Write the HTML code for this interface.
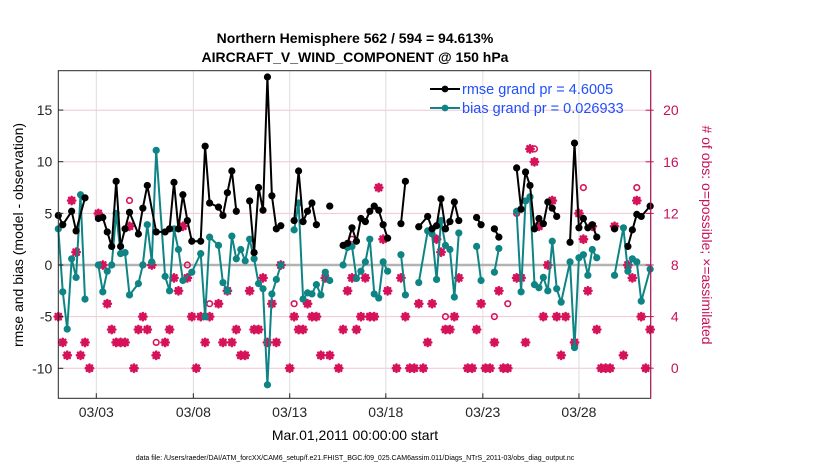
<!DOCTYPE html>
<html><head><meta charset="utf-8">
<style>
html,body{margin:0;padding:0;background:#fff;}
svg{display:block;font-family:"Liberation Sans",Arial,sans-serif;}
</style></head>
<body>
<svg id="chart" width="830" height="470" viewBox="0 0 830 470">
<text x="355" y="43" text-anchor="middle" font-size="14" font-weight="bold">Northern Hemisphere 562 / 594 = 94.613%</text>
<text x="355" y="62" text-anchor="middle" font-size="14" font-weight="bold">AIRCRAFT_V_WIND_COMPONENT @ 150 hPa</text>
<text transform="translate(23,235) rotate(-90)" text-anchor="middle" font-size="14">rmse and bias (model - observation)</text>
<text transform="translate(702,235) rotate(90)" text-anchor="middle" font-size="14" fill="#c8105a"># of obs: o=possible; ×=assimilated</text>
<text x="355" y="440" text-anchor="middle" font-size="14">Mar.01,2011 00:00:00 start</text>
<text x="355" y="460" text-anchor="middle" font-size="7">data file: /Users/raeder/DAI/ATM_forcXX/CAM6_setup/f.e21.FHIST_BGC.f09_025.CAM6assim.011/Diags_NTrS_2011-03/obs_diag_output.nc</text>
<g id="plot"></g>
</svg>
<script>
const rmseBins=[0,1,3,4,6,9,10,11,12,13,14,15,16,18,19,20,22,24,25,26,27,28,29,30,32,33,34,36,37,38,39,40,43,44,45,46,47,48,49,50,53,54,55,56,57,58,61,64,65,66,67,68,69,70,71,72,73,74,77,78,81,83,84,85,86,87,88,89,90,94,95,98,99,103,104,105,106,107,108,109,110,111,112,115,116,117,118,119,120,121,125,128,129,130,131,133];
const rmseValues=[4.8,3.9,5.2,3.3,6.5,4.5,4.6,3.2,1.8,8.1,1.8,3.5,5.1,3.0,5.5,7.7,3.2,3.2,3.5,8.0,3.5,6.8,4.3,2.3,2.3,11.5,6.0,5.6,4.8,7.0,9.1,5.2,6.2,1.2,7.5,5.3,18.2,6.7,3.5,3.8,4.3,9.1,4.2,5.2,6.0,3.9,5.7,1.9,2.1,3.6,2.3,4.5,4.2,5.2,5.7,5.3,3.9,2.6,4.0,8.1,3.7,4.7,3.5,3.8,6.4,3.5,4.2,6.1,4.3,4.6,3.9,3.5,2.7,9.4,5.4,9.0,7.7,3.5,4.5,4.0,6.1,5.5,4.7,2.2,11.8,3.6,4.5,3.6,3.9,2.7,3.5,1.8,3.4,4.9,4.7,5.7];
const biasBins=[0,1,2,3,4,5,6,9,10,11,12,13,14,15,16,18,19,20,21,22,24,25,26,27,28,30,32,33,34,36,37,38,39,40,41,42,43,44,45,46,47,48,49,50,53,54,55,56,57,58,59,60,61,64,65,66,67,68,69,70,71,72,73,74,77,78,81,83,84,85,86,87,88,89,90,94,95,98,99,103,104,105,106,107,108,109,110,111,112,113,115,116,117,118,119,120,121,125,127,128,129,130,131,133];
const biasValues=[3.5,-2.6,-6.2,0.6,-1.2,6.8,-3.3,0.0,-2.6,-0.6,0,5.0,1.1,1.2,-2.9,-1.8,0,3.9,0.3,11.1,-1.1,-2.5,3.5,1.5,-1.5,-0.7,1.1,-5.0,2.7,1.9,-1.7,-2.5,2.8,0.6,1.5,0.4,2.5,0.6,-1.8,-2.3,-11.6,-2.8,-1.4,0.0,3.4,6.0,-3.3,-2.7,-2.8,-1.9,-2.9,-0.7,-1.5,0,1.7,1.8,-1.3,-0.6,0.3,2.5,-2.8,-3.2,0.3,-0.6,1.0,-2.9,-1.7,3.3,3.0,-1.4,4.3,1.9,1.5,-3.1,3.1,1.8,-1.5,-0.7,1.6,5.2,-2.6,6.2,6.6,-1.9,-2.2,-1.2,-2.5,2.3,-2.3,-3.6,0.3,-8.0,0.7,1.0,-1.0,1.5,0.7,-1.0,3.6,-0.6,0.6,0.3,-3.5,-0.4];
const usedBins=[0,1,2,3,4,5,6,7,9,10,11,12,13,14,15,16,17,18,19,20,21,22,24,25,26,27,28,29,30,31,32,33,34,36,37,38,39,40,41,42,43,44,45,46,47,48,49,50,52,53,54,55,56,57,58,59,60,61,63,64,65,66,67,68,69,70,71,72,73,74,76,77,78,79,80,81,82,83,84,85,86,87,88,89,90,92,93,94,95,96,97,98,99,100,101,103,104,105,106,107,108,109,110,111,112,113,114,116,117,118,119,120,121,122,123,124,125,127,128,129,130,131,132,133];
const usedCounts=[4,2,1,13,9,1,2,0,12,8,5,3,2,2,2,11,0,3,4,3,8,1,2,3,7,6,11,7,4,0,4,2,4,5,2,6,2,3,1,1,6,3,3,7,2,5,2,8,0,4,3,3,5,4,4,1,7,1,0,3,6,7,3,4,7,4,4,14,10,6,0,7,4,0,0,5,0,2,5,10,9,3,3,4,7,0,0,3,5,0,0,2,6,0,0,7,7,2,17,16,11,4,8,13,4,1,4,2,12,10,6,11,3,0,0,0,11,1,8,7,13,4,0,3];
const possBins=[16,19,22,29,34,53,66,87,98,101,103,107,118,130];
const possCounts=[13,8,2,8,5,5,10,4,4,5,12,17,14,14];
const xTickBins=[8.54,30.35,52.0,73.6,95.4,117.0];
const xTickLabels=["03/03","03/08","03/13","03/18","03/23","03/28"];
const yTicks=[-10,-5,0,5,10,15];
const rTicks=[0,4,8,12,16,20];

const NS="http://www.w3.org/2000/svg";
const L=58.3,R=650.7,T=70.7,B=398.3;
const xs=i=>L+i*4.45;
const ys=v=>265-v*10.33;
const yr=c=>265-(c-8)*12.9;
const g=document.getElementById('plot');
function mk(tag,attrs,parent){const e=document.createElementNS(NS,tag);for(const k in attrs)e.setAttribute(k,attrs[k]);(parent||g).appendChild(e);return e;}

// grid
rTicks.forEach(c=>{const l=mk('line',{x1:L,x2:R,y1:yr(c),y2:yr(c),stroke:'#f2c6d6','stroke-width':1});

});
xTickBins.forEach(b=>{const l=mk('line',{x1:xs(b),x2:xs(b),y1:T,y2:B,stroke:'#dcdcdc','stroke-width':1});

});
const z=mk('line',{x1:L,x2:R,y1:ys(0),y2:ys(0),stroke:'#b3b3b3','stroke-width':2.5});



// obs counts
const star=(x,y)=>{const s=mk('g',{stroke:'#d6125a','stroke-width':2.6,'stroke-linecap':'round'});


const r=3.6,d=2.6;
mk('line',{x1:x-r,x2:x+r,y1:y,y2:y},s);mk('line',{x1:x,x2:x,y1:y-r,y2:y+r},s);
mk('line',{x1:x-d,x2:x+d,y1:y-d,y2:y+d},s);mk('line',{x1:x-d,x2:x+d,y1:y+d,y2:y-d},s);};
usedBins.forEach((b,k)=>star(xs(b),yr(usedCounts[k])));
possBins.forEach((b,k)=>{const c=mk('circle',{cx:xs(b),cy:yr(possCounts[k]),r:2.8,fill:'none',stroke:'#d6125a','stroke-width':1.6});

});

function series(bins,vals,color,name){
  let d='';
  bins.forEach((b,k)=>{const cont=k>0&&b-bins[k-1]<=2;d+=(cont?'L':'M')+xs(b).toFixed(1)+' '+ys(vals[k]).toFixed(1)+' ';});
  const p=mk('path',{d:d,fill:'none',stroke:color,'stroke-width':2,'stroke-linejoin':'round'});
  
  
  bins.forEach((b,k)=>{const c=mk('circle',{cx:xs(b),cy:ys(vals[k]),r:3.6,fill:color});
  
  });
}
series(biasBins,biasValues,'#0e8484','bias');
series(rmseBins,rmseValues,'#000','rmse');

// frame
const f=mk('rect',{x:L,y:T,width:R-L,height:B-T,fill:'none',stroke:'#262626','stroke-width':1});


// left ticks
yTicks.forEach(v=>{mk('line',{x1:L,x2:L+5,y1:ys(v),y2:ys(v),stroke:'#262626'});
const t=mk('text',{x:L-6,y:ys(v)+5,'text-anchor':'end','font-size':14,fill:'#262626'});t.textContent=v;

});
// right ticks
rTicks.forEach(c=>{mk('line',{x1:R-5,x2:R+3,y1:yr(c),y2:yr(c),stroke:'#c8105a','stroke-width':1});
const t=mk('text',{x:R+28,y:yr(c)+5,'text-anchor':'end','font-size':14,fill:'#c8105a'});t.textContent=c;

});
const ra=mk('line',{x1:R,x2:R,y1:T,y2:B,stroke:'#c8105a','stroke-width':1});


// x ticks
xTickBins.forEach((b,k)=>{mk('line',{x1:xs(b),x2:xs(b),y1:B,y2:B-5,stroke:'#262626'});
const t=mk('text',{x:xs(b),y:417,'text-anchor':'middle','font-size':14,fill:'#262626'});t.textContent=xTickLabels[k];

});

// legend
[['rmse grand pr = 4.6005','#000',89],['bias grand pr = 0.026933','#0e8484',108]].forEach((e,k)=>{
const lg=mk('g',{});


mk('line',{x1:430,x2:460,y1:e[2],y2:e[2],stroke:e[1],'stroke-width':2},lg);
mk('circle',{cx:445,cy:e[2],r:3.4,fill:e[1]},lg);
const t=mk('text',{x:462,y:e[2]+5,'font-size':14.5,fill:'#1f4fff'},lg);t.textContent=e[0];});
</script>
</body></html>
